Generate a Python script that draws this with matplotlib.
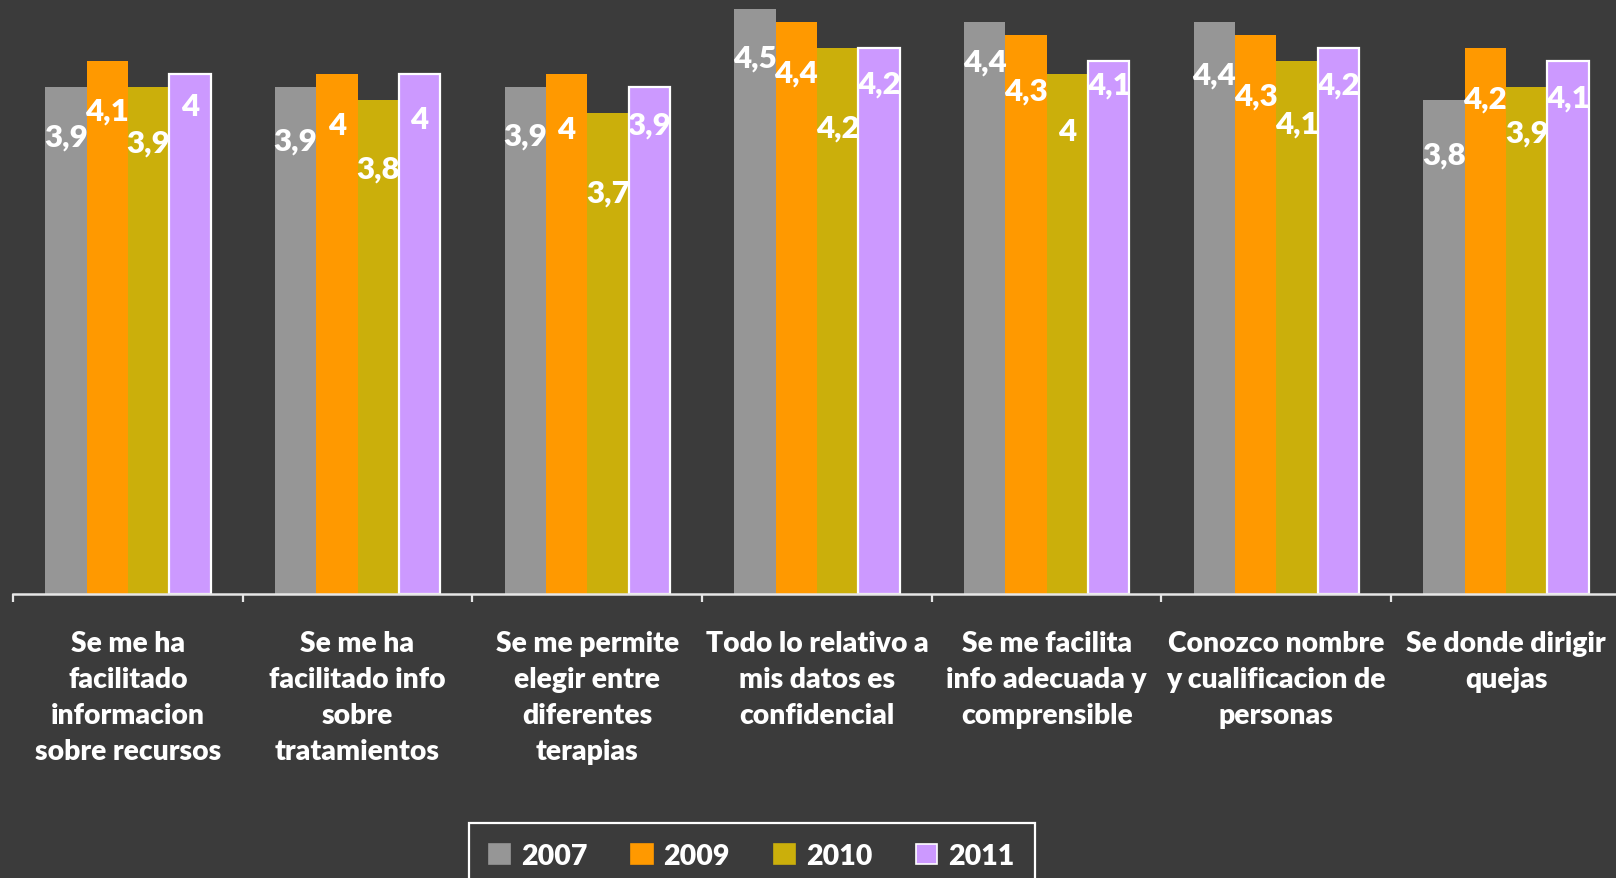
import matplotlib
matplotlib.use("Agg")
import matplotlib.pyplot as plt
from matplotlib.patches import Patch
import numpy as np

# Survey items (x-axis categories)
categories = [
    "Se me ha\nfacilitado\ninformacion\nsobre recursos",
    "Se me ha\nfacilitado info\nsobre\ntratamientos",
    "Se me permite\nelegir entre\ndiferentes\nterapias",
    "Todo lo relativo a\nmis datos es\nconfidencial",
    "Se me facilita\ninfo adecuada y\ncomprensible",
    "Conozco nombre\ny cualificacion de\npersonas",
    "Se donde dirigir\nquejas",
]

years = ["2007", "2009", "2010", "2011"]

# Mean scores per year
values_2007 = [3.9, 3.9, 3.9, 4.5, 4.4, 4.4, 3.8]
values_2009 = [4.1, 4.0, 4.0, 4.4, 4.3, 4.3, 4.2]
values_2010 = [3.9, 3.8, 3.7, 4.2, 4.0, 4.1, 3.9]
values_2011 = [4.0, 4.0, 3.9, 4.2, 4.1, 4.2, 4.1]

# Vertical placement of each value label: pixels below the top of its bar
label_drop = [
    [50, 54, 49, 49, 40, 53, 55],
    [50, 51, 55, 51, 56, 61, 51],
    [56, 69, 80, 80, 57, 63, 46],
    [32, 45, 38, 36, 24, 37, 37],
]

BG = "#3b3b3b"
colors = ["#969696", "#ff9900", "#cbaf0b", "#cc99ff"]
edges = ["none", "none", "none", "white"]
FONT = "Lato"
WEIGHT = "heavy"

series = [values_2007, values_2009, values_2010, values_2011]

W, H = 1616, 879
fig = plt.figure(figsize=(W / 100, H / 100), dpi=100, facecolor=BG)

# Plot area: baseline 595 px from the top, 13 px from the left edge
cat_w = 229.7
ax = fig.add_axes([13 / W, (H - 595) / H, cat_w * 7 / W, 595 / H])
ax.set_facecolor(BG)

x = np.arange(len(categories))
bw = 0.18
for j, (vals, col, ec) in enumerate(zip(series, colors, edges)):
    pos = x + (j - 1.5) * bw
    bars = ax.bar(pos, vals, width=bw, color=col, edgecolor=ec,
                  linewidth=1.6 if ec != "none" else 0, zorder=2)
    for k, (b, v) in enumerate(zip(bars, vals)):
        txt = f"{v:g}".replace(".", ",")
        ax.annotate(txt, (b.get_x() + b.get_width() / 2, v),
                    xytext=(0, -label_drop[j][k]), textcoords="offset pixels",
                    ha="center", va="center", color="white",
                    fontsize=22.5, fontweight=WEIGHT, family=FONT, zorder=3)

ax.set_xlim(-0.5, len(categories) - 0.5)
ax.set_ylim(0, 595 / 130)

for s in ["left", "right", "top"]:
    ax.spines[s].set_visible(False)
ax.spines["bottom"].set_color("#e6e6e6")
ax.spines["bottom"].set_linewidth(1.8)
ax.set_yticks([])

ax.set_xticks(x)
ax.set_xticklabels(categories, color="white", fontsize=20.3,
                   fontweight=WEIGHT, family=FONT, linespacing=1.47)
ax.set_xticks(np.arange(-0.5, len(categories), 1.0), minor=True)
ax.tick_params(axis="x", which="major", length=0, pad=26)
ax.tick_params(axis="x", which="minor", length=6, width=1.6,
               color="#e6e6e6", direction="out")

handles = [Patch(facecolor=c, edgecolor=(e if e != "none" else c), linewidth=1.2)
           for c, e in zip(colors, edges)]
leg = fig.legend(handles, years, loc="upper left",
                 bbox_to_anchor=(469 / W, 1 - 824 / H), ncol=4,
                 frameon=True, fancybox=False, borderaxespad=0,
                 prop={"family": FONT, "weight": WEIGHT, "size": 20.5},
                 handlelength=0.74, handleheight=0.74, handletextpad=0.39,
                 columnspacing=1.54, borderpad=0.7)
for t in leg.get_texts():
    t.set_color("white")
frame = leg.get_frame()
frame.set_facecolor(BG)
frame.set_edgecolor("white")
frame.set_linewidth(1.6)
frame.set_alpha(1)

fig.savefig("out.png", dpi=100, facecolor=BG)
